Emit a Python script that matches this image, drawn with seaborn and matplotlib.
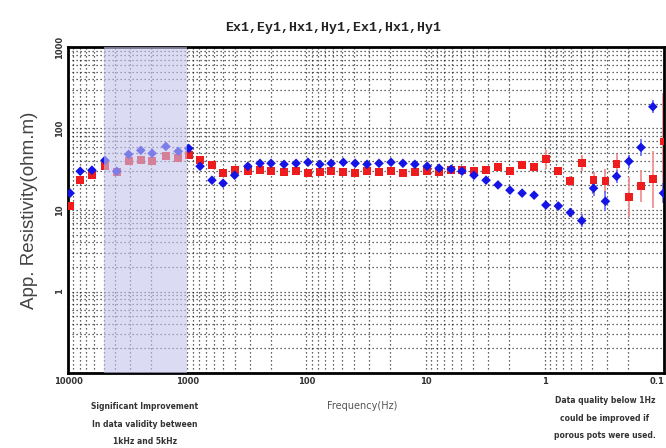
import seaborn as sns
import matplotlib.pyplot as plt
import matplotlib.ticker as mticker
import numpy as np
import pandas as pd

# frequencies (Hz), high -> low
freq = [9600, 7900, 6300, 4900, 3900, 3100, 2450, 1970, 1510, 1190,
        970, 780, 620, 500, 400, 310, 245, 198, 154, 122,
        97, 77, 62, 49, 39, 31, 24.6, 19.5, 15.5, 12.3,
        9.7, 7.7, 6.1, 4.95, 3.93, 3.11, 2.47, 1.96, 1.55, 1.23,
        0.98, 0.77, 0.61, 0.49, 0.39, 0.31, 0.25, 0.197, 0.156, 0.124,
        0.101]

# apparent resistivity, red squares
rho_red = [11.2, 23.2, 26.7, 34.4, 29, 39.6, 40.7, 39.6, 45.6, 43,
           46.9, 40.7, 35.4, 28.2, 30.8, 29.9, 30.8, 29.9, 29, 29.9,
           28.2, 29, 29.9, 29, 28.2, 29.9, 29, 29.9, 28.2, 29,
           29.9, 29, 30.8, 30.8, 29.9, 30.8, 33.4, 29.9, 35.4, 33.4,
           41.9, 29.9, 22.6, 37.4, 23.2, 22.6, 36.4, 14.4, 19.6, 23.9,
           69.3]

# apparent resistivity, blue diamonds
rho_blue = [16.1, 29.9, 30.8, 40.7, 29.9, 48.2, 54, 49.6, 60.3, 52.5,
            57, 34.4, 23.2, 21.3, 26.7, 34.4, 37.4, 37.4, 36.4, 37.4,
            38.5, 36.4, 37.4, 38.5, 37.4, 36.4, 37.4, 38.5, 37.4, 36.4,
            34.4, 32.6, 31.7, 29.9, 26.7, 23.2, 20.3, 17.5, 16.1, 15.2,
            11.5, 11.2, 9.3, 7.4, 18.5, 12.8, 25.9, 39.6, 58.6, 185,
            16.1]

# error half-widths in decades
err_red = [0.03] * 40 + [0.12, 0.05, 0.06, 0.1, 0.1, 0.15, 0.12, 0.25, 0.2, 0.35, 0.6]
err_blue = [0.02] * 40 + [0.05, 0.04, 0.06, 0.08, 0.1, 0.12, 0.08, 0.08, 0.1, 0.08, 0.12]

xticks = [10000, 1000, 100, 10, 1, 0.1]
xticklabels = ["10000", "1000", "100", "10", "1", "0.1"]
yticks = [1, 10, 100, 1000]
yticklabels = ["1", "10", "100", "1000"]

df = pd.DataFrame({"freq": freq * 2,
                   "rho": rho_red + rho_blue,
                   "comp": ["xy"] * len(freq) + ["yx"] * len(freq)})

sns.set_style("white")
fig = plt.figure(figsize=(6.66, 4.48), dpi=100)
ax = fig.add_axes([68 / 666, 1 - 373 / 448, 596 / 666, 326 / 448])

ax.set_xscale("log")
ax.set_yscale("log")

# error bars
for rho, err, col in [(rho_red, err_red, "#f08a8a"), (rho_blue, err_blue, "#6a6aff")]:
    r = np.array(rho)
    e = np.array(err)
    lo = r * (1 - 10 ** (-e))
    hi = r * (10 ** e - 1)
    ax.errorbar(freq, rho, yerr=[lo, hi], fmt="none", ecolor=col, elinewidth=1.2, zorder=2)

sns.scatterplot(data=df[df.comp == "xy"], x="freq", y="rho", marker="s", color="#ee1c1c",
                s=32, edgecolor="none", ax=ax, zorder=3, legend=False)
sns.scatterplot(data=df[df.comp == "yx"], x="freq", y="rho", marker="D", color="#1414e6",
                s=24, edgecolor="none", ax=ax, zorder=4, legend=False)

# shaded band 1kHz - 5kHz
ax.axvspan(1000, 5000, color="#c4c4ec", alpha=0.6, zorder=5, lw=0)

ax.set_xlim(10000, 0.1)
ax.set_ylim(0.1, 1000)

ax.grid(which="both", linestyle=(0, (1, 2.2)), color="black", linewidth=0.9, alpha=0.8)
for s in ax.spines.values():
    s.set_linewidth(2)
    s.set_color("black")

ax.xaxis.set_major_locator(mticker.FixedLocator(xticks))
ax.xaxis.set_major_formatter(mticker.FixedFormatter(xticklabels))
ax.yaxis.set_major_locator(mticker.FixedLocator(yticks))
ax.yaxis.set_major_formatter(mticker.FixedFormatter(yticklabels))
ax.tick_params(axis="both", which="major", length=0, labelsize=6, pad=3)
ax.tick_params(axis="both", which="minor", length=0)
for lab in ax.get_xticklabels() + ax.get_yticklabels():
    lab.set_fontweight("bold")
    lab.set_color("#333333")
for lab in ax.get_yticklabels():
    lab.set_rotation(90)
    lab.set_va("center")
ax.get_xticklabels()[-1].set_ha("right")

ax.set_xlabel("")
ax.set_ylabel("App. Resistivity(ohm.m)", fontsize=13.5, color="#444444",
              family="Liberation Sans", labelpad=12)

fig.text(0.5, 1 - 28 / 448, "Ex1,Ey1,Hx1,Hy1,Ex1,Hx1,Hy1", ha="center", va="center",
         family="Liberation Mono", fontweight="bold", fontsize=9.5, color="#222222")
fig.text(362 / 666, 1 - 406 / 448, "Frequency(Hz)", ha="center", va="center",
         fontsize=7, color="#555555")
fig.text(145 / 666, 1 - 424 / 448,
         "Significant Improvement\nIn data validity between\n1kHz and 5kHz",
         ha="center", va="center", fontsize=5.5, fontweight="bold",
         color="#333333", linespacing=2.2)
fig.text(605 / 666, 1 - 418 / 448,
         "Data quality below 1Hz\ncould be improved if\nporous pots were used.",
         ha="center", va="center", fontsize=5.5, fontweight="bold",
         color="#333333", linespacing=2.2)

fig.savefig("out.png", dpi=100)
